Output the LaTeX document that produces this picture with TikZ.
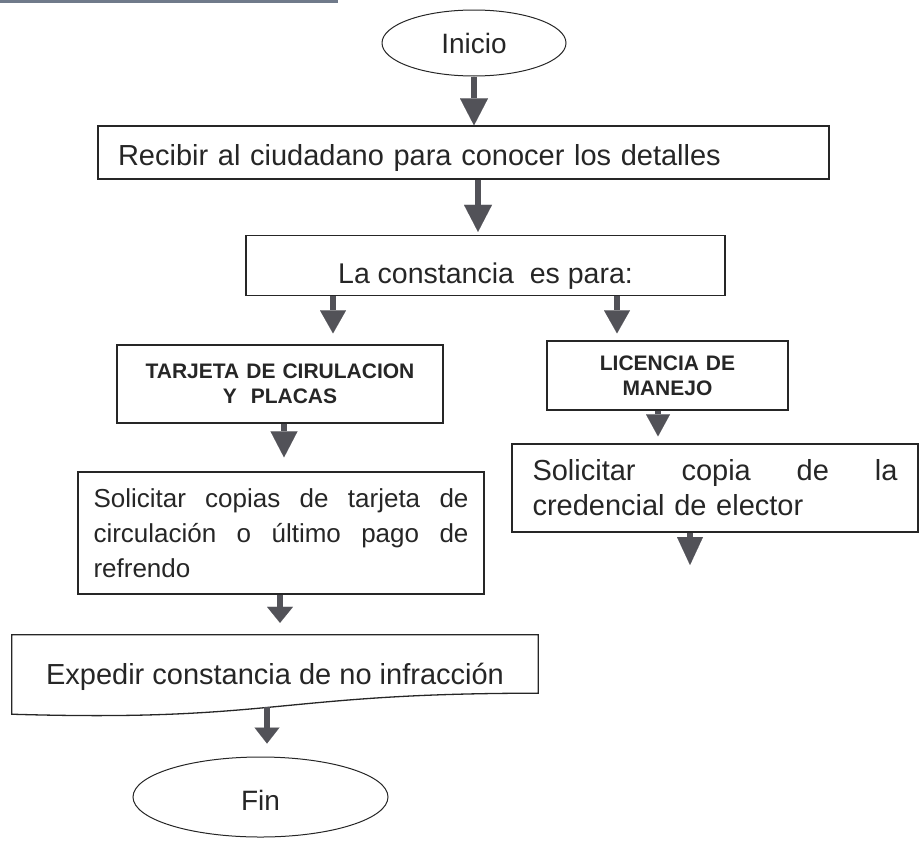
\documentclass[tikz,border=0pt]{standalone}
\usepackage{fontspec}
\setmainfont{Liberation Sans}
\usetikzlibrary{shapes.geometric,arrows.meta}
\definecolor{ink}{RGB}{38,38,38}
\definecolor{arrowgray}{RGB}{82,82,88}
\definecolor{scanline}{RGB}{112,122,138}
\newcommand{\jline}[2]{\leavevmode\hbox to #1{#2}}
\begin{document}
\begin{tikzpicture}[x=1pt,y=-1pt,
  box/.style={draw=ink, line width=1.3pt, rectangle, inner sep=0pt, text=ink},
  oval/.style={draw=ink, line width=1pt, ellipse, inner sep=0pt, text=ink},
  arr/.style n args={2}{draw=arrowgray, line width=6.5pt, -{Triangle[length=#1,width=#2,line width=0.01pt]}},
  th/.style={text height=#1, text depth=0pt},
  big/.style={font=\fontsize{28}{35}\selectfont},
  caps/.style={font=\fontsize{21}{25}\selectfont\bfseries}
]
\useasboundingbox (0,0) rectangle (923,846);
\draw[scanline, line width=3pt] (0,1) -- (338,1);

% column coordinates for connectors
\coordinate (c1) at (478,0);
\coordinate (c2) at (333,0);
\coordinate (c3) at (617,0);
\coordinate (c4) at (284,0);
\coordinate (c5) at (658,0);
\coordinate (c6) at (690,0);
\coordinate (c7) at (280,0);
\coordinate (c8) at (267,0);
\coordinate (c6end) at (690,565);

\node[oval, minimum width=184pt, minimum height=66pt, big, th=20pt] (inicio) at (474,43) {Inicio};

\node[box, minimum height=53pt, text width=691pt, inner xsep=20pt, align=left,
      font=\fontsize{29}{35}\selectfont, th=25pt] (recibir) at (463.5,152.5)
      {Recibir al ciudadano para conocer los detalles};

\node[box, minimum width=479pt, minimum height=60pt, font=\fontsize{28.5}{35}\selectfont, th=35pt]
      (constancia) at (485.5,265.5) {La constancia\ \ es para:};

\node[box, minimum width=326pt, minimum height=78pt, text width=300pt, align=center, caps]
      (tarjeta) at (280,384) {TARJETA DE CIRULACION\\Y\ \ PLACAS};

\node[box, minimum width=241pt, minimum height=69pt, text width=220pt, align=center, caps]
      (licencia) at (667.5,375.5) {LICENCIA DE\\MANEJO};

\node[box, minimum width=406pt, minimum height=122pt, text width=375pt, align=left,
      font=\fontsize{26}{35}\selectfont] (copias) at (281,533)
      {\jline{375pt}{Solicitar\hfill copias\hfill de\hfill tarjeta\hfill de}\\\jline{375pt}{circulación\hfill o\hfill último\hfill pago\hfill de}\\refrendo};

\node[box, minimum width=406pt, minimum height=88pt, text width=365pt, align=left,
      font=\fontsize{29}{35}\selectfont] (credencial) at (715,488)
      {\jline{365pt}{Solicitar\hfill copia\hfill de\hfill la}\\credencial de elector};

\node[inner sep=0pt, minimum width=526pt, minimum height=79pt, font=\fontsize{29}{35}\selectfont,
      th=20pt, text=ink] (expedir) at (275,674.5) {Expedir constancia de no infracción};
\draw[draw=ink, line width=1.3pt] (expedir.south west) -- (expedir.north west) -- (expedir.north east)
      -- ([yshift=21pt]expedir.south east)
      .. controls ([yshift=21pt]expedir.south) and ([yshift=-8pt]expedir.south) .. (expedir.south west) -- cycle;

\node[oval, minimum width=255pt, minimum height=80pt, big, th=26pt] (fin) at (260.5,797) {Fin};

% connectors
\draw[arr={27pt}{28pt}] (inicio.south) -- (recibir.north -| inicio.south);
\draw[arr={27pt}{28pt}, shorten >=3pt] (recibir.south -| c1) -- (constancia.north -| c1);
\draw[arr={23pt}{26pt}, shorten >=11pt] (constancia.south -| c2) -- (tarjeta.north -| c2);
\draw[arr={23pt}{26pt}, shorten >=7pt] (constancia.south -| c3) -- (licencia.north -| c3);
\draw[arr={26pt}{27pt}, shorten >=14pt] (tarjeta.south -| c4) -- (copias.north -| c4);
\draw[arr={22pt}{24pt}, shorten >=7pt] (licencia.south -| c5) -- (credencial.north -| c5);
\draw[arr={28pt}{26pt}] (credencial.south -| c6) -- (c6end);
\draw[arr={16pt}{26pt}, shorten >=12pt] (copias.south -| c7) -- (expedir.north -| c7);
\draw[arr={16pt}{25pt}, shorten <=-7pt, shorten >=13pt] (expedir.south -| c8) -- (fin.north -| c8);
\end{tikzpicture}
\end{document}
